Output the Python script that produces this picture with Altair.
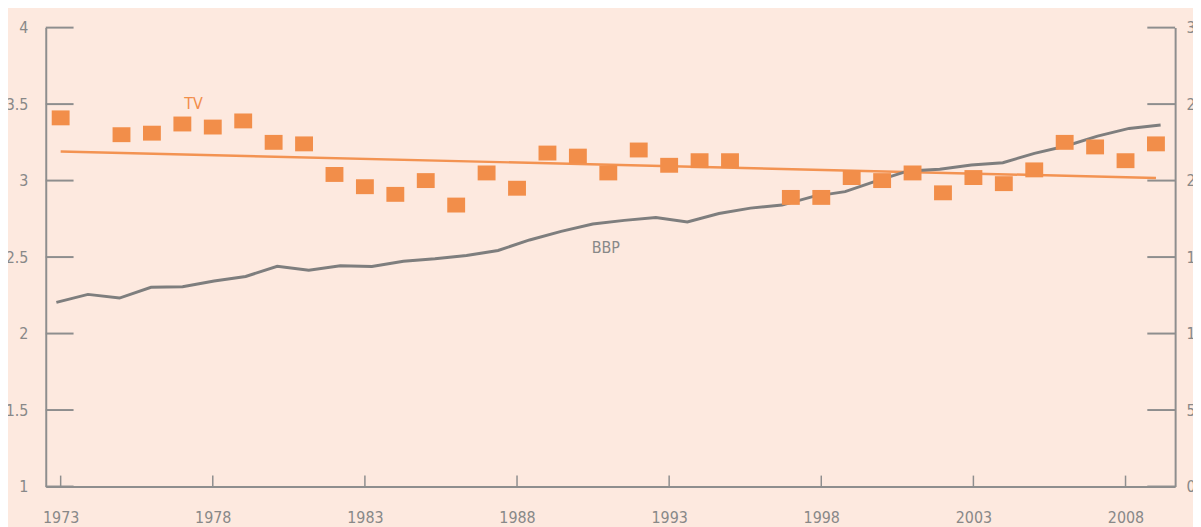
import altair as alt
import pandas as pd

# ---------------- data ----------------
tv_years = [1973, 1975, 1976, 1977, 1978, 1979, 1980, 1981, 1982, 1983, 1984,
            1985, 1986, 1987, 1988, 1989, 1990, 1991, 1992, 1993, 1994, 1995,
            1997, 1998, 1999, 2000, 2001, 2002, 2003, 2004, 2005, 2006, 2007,
            2008, 2009]
tv_values = [3.41, 3.30, 3.31, 3.37, 3.35, 3.39, 3.25, 3.24, 3.04, 2.96, 2.91,
             3.00, 2.84, 3.05, 2.95, 3.18, 3.16, 3.05, 3.20, 3.10, 3.13, 3.13,
             2.89, 2.89, 3.02, 3.00, 3.05, 2.92, 3.02, 2.98, 3.07, 3.25, 3.22,
             3.13, 3.24]

trend_years = [1973, 2009]
trend_values = [3.19, 3.017]

bbp_years = list(range(1973, 2009))
bbp_values = [1204, 1256, 1232, 1302, 1306, 1343, 1373, 1440, 1414, 1443,
              1439, 1473, 1489, 1510, 1543, 1612, 1668, 1716, 1740, 1759,
              1729, 1785, 1820, 1840, 1897, 1928, 1998, 2063, 2074, 2102,
              2117, 2178, 2226, 2291, 2341, 2363]

left_ticks = [1, 1.5, 2, 2.5, 3, 3.5, 4]
right_ticks = [0, 500, 1000, 1500, 2000, 2500, 3000]
year_ticks = [1973, 1978, 1983, 1988, 1993, 1998, 2003, 2008]

tv_label = ["TV"]
tv_label_year = [1977.37]
tv_label_value = [3.5]
bbp_label = ["BBP"]
bbp_label_year = [1990.92]
bbp_label_value = [2.562]

# ---------------- style ----------------
BG = "#fde9df"
ORANGE = "#f28e4a"
ORANGE_LINE = "#f39352"
GREY_LINE = "#7e7e7e"
AXIS = "#8e8e8e"
LABEL = "#888888"
FONT = "Liberation Sans Narrow, DejaVu Sans Condensed, sans-serif"
W, H = 1137, 462

tv_df = pd.DataFrame({"year": tv_years, "value": tv_values})
trend_df = pd.DataFrame({"year": trend_years, "value": trend_values})
bbp_df = pd.DataFrame({"year": bbp_years, "value": bbp_values})
left_df = pd.DataFrame({"v": left_ticks})
year_df = pd.DataFrame({"year": year_ticks})
tvl_df = pd.DataFrame({"t": tv_label, "year": tv_label_year, "value": tv_label_value})
bbpl_df = pd.DataFrame({"t": bbp_label, "year": bbp_label_year, "value": bbp_label_value})

X_MAIN = alt.Scale(domain=[1972.51, 2009.63], nice=False, zero=False)
X_BBP = alt.Scale(domain=[1972.663, 2008.46], nice=False, zero=False)
Y_LEFT = alt.Scale(domain=[1, 4], nice=False, zero=False)
Y_RIGHT = alt.Scale(domain=[0, 3000], nice=False, zero=False)

common_axis = dict(grid=False, ticks=False, tickSize=0, domain=True,
                   domainColor=AXIS, domainWidth=2, labelFont=FONT,
                   labelFontSize=16, labelColor=LABEL, labelFlush=False,
                   labelOverlap=False, title=None)

x_axis = alt.Axis(values=year_ticks, format="d", orient="bottom",
                  labelPadding=31, labelBaseline="middle", **common_axis)
left_axis = alt.Axis(values=left_ticks, format="~g", orient="left",
                     labelPadding=18, labelAlign="right",
                     labelBaseline="middle", **common_axis)
right_axis = alt.Axis(values=right_ticks, format="d", orient="right",
                      labelPadding=11, labelAlign="left",
                      labelBaseline="middle", **common_axis)

RECT = "M-1,-0.833L1,-0.833L1,0.833L-1,0.833Z"

tv = alt.Chart(tv_df).mark_point(
    shape=RECT, filled=True, size=324, opacity=1, color=ORANGE, strokeWidth=0
).encode(
    x=alt.X("year:Q", scale=X_MAIN, axis=x_axis),
    y=alt.Y("value:Q", scale=Y_LEFT, axis=left_axis),
)

trend = alt.Chart(trend_df).mark_line(color=ORANGE_LINE, strokeWidth=2.5).encode(
    x=alt.X("year:Q", scale=X_MAIN, axis=None),
    y=alt.Y("value:Q", scale=Y_LEFT, axis=None),
)

bbp = alt.Chart(bbp_df).mark_line(color=GREY_LINE, strokeWidth=3).encode(
    x=alt.X("year:Q", scale=X_BBP, axis=None),
    y=alt.Y("value:Q", scale=Y_RIGHT, axis=right_axis),
)

left_stubs = alt.Chart(left_df).mark_rule(color=AXIS, strokeWidth=2).encode(
    y=alt.Y("v:Q", scale=Y_LEFT, axis=None),
    x=alt.value(0), x2=alt.value(28),
)

right_stubs = alt.Chart(left_df).mark_rule(color=AXIS, strokeWidth=2).encode(
    y=alt.Y("v:Q", scale=Y_LEFT, axis=None),
    x=alt.value(W - 28), x2=alt.value(W),
)

x_ticks = alt.Chart(year_df).mark_rule(color=AXIS, strokeWidth=1.5).encode(
    x=alt.X("year:Q", scale=X_MAIN, axis=None),
    y=alt.value(H - 11), y2=alt.value(H),
)

tv_text = alt.Chart(tvl_df).mark_text(
    font=FONT, fontSize=16, color=ORANGE, align="center", baseline="middle"
).encode(
    x=alt.X("year:Q", scale=X_MAIN, axis=None),
    y=alt.Y("value:Q", scale=Y_LEFT, axis=None),
    text="t:N",
)

bbp_text = alt.Chart(bbpl_df).mark_text(
    font=FONT, fontSize=16, color=LABEL, align="center", baseline="middle"
).encode(
    x=alt.X("year:Q", scale=X_MAIN, axis=None),
    y=alt.Y("value:Q", scale=Y_LEFT, axis=None),
    text="t:N",
)

chart = alt.layer(
    left_stubs, right_stubs, x_ticks, trend, bbp, tv, tv_text, bbp_text
).resolve_scale(
    x="independent", y="independent"
).properties(
    width=W, height=H,
    padding={"left": 38, "top": 18, "right": 18, "bottom": 39},
    autosize=alt.AutoSizeParams(type="none"),
    background=BG,
).configure_view(strokeWidth=0)

chart.save("out.html", embed_options={"renderer": "svg", "actions": False})
